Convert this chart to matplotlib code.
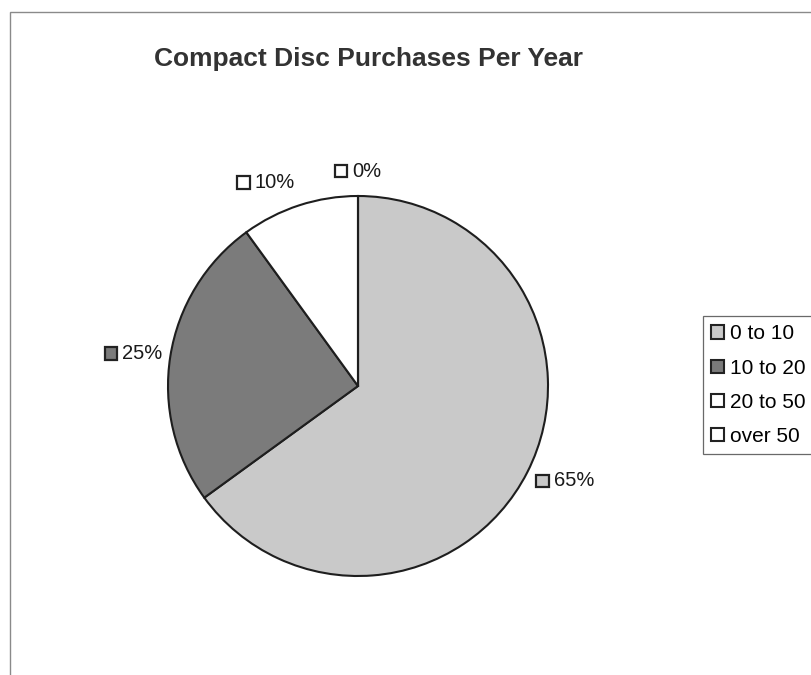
import numpy as np
import matplotlib
matplotlib.use("Agg")
import matplotlib.pyplot as plt
from matplotlib.patches import Rectangle, Patch
from matplotlib.offsetbox import AnnotationBbox, DrawingArea, TextArea, HPacker

plt.rcParams['font.family'] = ['Liberation Sans', 'DejaVu Sans']

categories = ["0 to 10", "10 to 20", "20 to 50", "over 50"]
shares = [65, 25, 10, 0]
colors = ["#c9c9c9", "#7b7b7b", "#ffffff", "#ffffff"]

W, H = 811, 675
fig = plt.figure(figsize=(W / 100, H / 100), dpi=100)

# outer chart frame (runs off the right and bottom edges)
fig.patches.append(Rectangle((10 / W, -0.1), 1.2, 1 - 12 / H + 0.1,
                             transform=fig.transFigure, fill=False,
                             edgecolor="#8a8a8a", linewidth=1.0))

fig.text(368 / W, 1 - 59 / H, "Compact Disc Purchases Per Year",
         ha="center", va="center", fontsize=19, fontweight="bold",
         color="#333333")

cx, cy, r = 358, 386, 190
ax = fig.add_axes([(cx - r) / W, (H - cy - r) / H, 2 * r / W, 2 * r / H])
wedges, _ = ax.pie(shares, colors=colors, startangle=90, counterclock=False,
                   wedgeprops=dict(edgecolor="#1e1e1e", linewidth=1.5))
ax.set_xlim(-1, 1)
ax.set_ylim(-1, 1)
ax.set_aspect("equal")
ax.axis("off")

# percentage labels with a small swatch, placed just outside each wedge
for w, v, c in zip(wedges, shares, colors):
    mid = np.deg2rad((w.theta1 + w.theta2) / 2)
    dx, dy = np.cos(mid), np.sin(mid)
    sw = DrawingArea(10, 10, 0, 0)
    sw.add_artist(Rectangle((0.6, 0.6), 8.8, 8.8, facecolor=c,
                            edgecolor="#222222", linewidth=1.6))
    txt = TextArea(f"{v}%", textprops=dict(fontsize=14.5, color="#1a1a1a"))
    box = HPacker(children=[sw, txt], align="center", pad=0, sep=3)
    align = (float(np.clip(0.5 - 5 * dx, 0, 1)), 0.5 - 0.5 * dy)
    dist = 1.04 + 0.04 * dy ** 2
    ab = AnnotationBbox(box, (dist * dx, dist * dy), xycoords="data",
                        frameon=False, pad=0, box_alignment=align,
                        annotation_clip=False)
    ax.add_artist(ab)

handles = [Patch(facecolor=c, edgecolor="#222222", linewidth=1.5) for c in colors]
leg = fig.legend(handles, categories, loc="upper left",
                 bbox_to_anchor=(703 / W, 1 - 316 / H), fontsize=15,
                 frameon=True, fancybox=False, edgecolor="#444444",
                 handlelength=0.6, handleheight=0.6, handletextpad=0.3,
                 borderpad=0.4, labelspacing=0.73, borderaxespad=0)
leg.get_frame().set_linewidth(0.9)

fig.savefig("out.png", dpi=100)
